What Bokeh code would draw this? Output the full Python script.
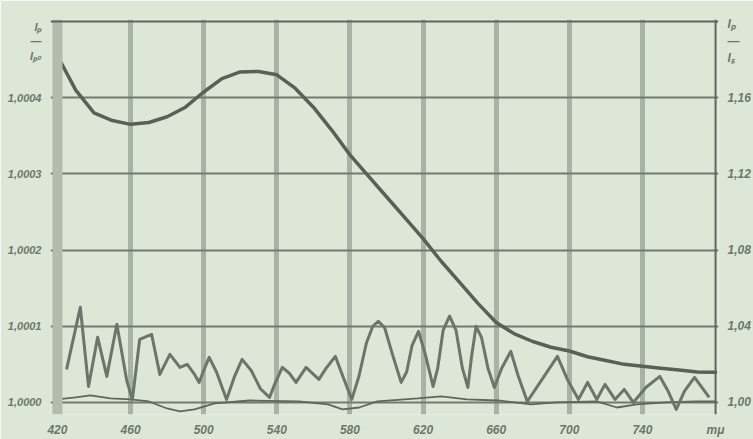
from bokeh.plotting import figure
from bokeh.models import (Range1d, LinearAxis, FixedTicker, CustomJSTickFormatter,
                          Span)
from bokeh.embed import file_html
from bokeh.resources import INLINE

# Wavelength (mμ) and intensity ratio I_p / I_s (right-hand scale)
wl_ratio = [420, 430, 440, 450, 460, 470, 480, 490, 500, 510, 520, 530, 540,
            550, 560, 570, 580, 590, 600, 610, 620, 630, 640, 650, 660, 670,
            680, 690, 700, 710, 720, 730, 740, 750, 760, 770, 780]
ratio = [1.182, 1.164, 1.152, 1.148, 1.146, 1.147, 1.150, 1.155, 1.163, 1.170,
         1.1735, 1.1738, 1.172, 1.165, 1.155, 1.143, 1.130, 1.119, 1.108,
         1.097, 1.086, 1.074, 1.063, 1.052, 1.042, 1.036, 1.032, 1.029,
         1.027, 1.024, 1.022, 1.020, 1.019, 1.018, 1.017, 1.016, 1.0158]

# Oscillating relative intensity (left-hand scale)
wl_osc = [425, 432.5, 437, 442, 447, 452.5, 458, 461, 465, 471.5, 476, 481.5,
          487, 491, 495, 497.5, 500, 503, 507, 512.5, 517, 521, 526, 531, 536,
          539, 543, 547, 550.5, 556, 563, 567, 572, 576, 581,
          585, 589, 592.5, 595.5, 599, 603, 608, 611, 614, 617.5, 621, 625.5,
          628, 631, 634.5, 638, 641.5, 644.5, 646.5, 649, 652, 655.5, 659,
          663, 668, 672, 677, 685, 693.5, 699, 705, 710, 715, 719.5, 725,
          730, 735, 742, 749.5, 754, 758.5, 763, 768.5, 776.5]
osc = [1.0000434, 1.0001250, 1.0000210, 1.0000855, 1.0000342, 1.0001026,
       1.0000276, 1.0000040, 1.0000829, 1.0000895, 1.0000368, 1.0000632,
       1.0000460, 1.0000500, 1.0000368, 1.0000263, 1.0000420, 1.0000592,
       1.0000400, 1.0000040, 1.0000350, 1.0000566, 1.0000420, 1.0000180,
       1.0000066, 1.0000250, 1.0000460, 1.0000380, 1.0000263, 1.0000460,
       1.0000303, 1.0000450, 1.0000605, 1.0000350, 1.0000040,
       1.0000350, 1.0000780, 1.0001000, 1.0001066, 1.0000980, 1.0000650,
       1.0000263, 1.0000400, 1.0000750, 1.0000934, 1.0000650, 1.0000210,
       1.0000450, 1.0000950, 1.0001132, 1.0000950, 1.0000450, 1.0000197,
       1.0000600, 1.0001000, 1.0000850, 1.0000450, 1.0000197, 1.0000450,
       1.0000671, 1.0000350, 1.0000013, 1.0000300, 1.0000605, 1.0000300,
       1.0000040, 1.0000263, 1.0000040, 1.0000237, 1.0000040, 1.0000171,
       1.0000000, 1.0000200, 1.0000342, 1.0000150, 0.9999908, 1.0000150,
       1.0000329, 1.0000066]

# Reference trace lying close to 1,0000 (left-hand scale)
wl_ref = [420, 430, 438, 449, 460, 470, 480, 487, 495, 506, 525, 552, 568,
          576, 585, 595, 617, 630, 644, 661, 679, 693, 715, 726, 737, 753,
          769, 780]
ref = [1.0000040, 1.0000066, 1.0000092, 1.0000053, 1.0000040, 1.0000013,
       0.9999921, 0.9999882, 0.9999908, 0.9999987, 1.0000026, 1.0000013,
       0.9999974, 0.9999908, 0.9999934, 1.0000013, 1.0000053, 1.0000079,
       1.0000040, 1.0000026, 0.9999974, 1.0000000, 1.0000013, 0.9999934,
       0.9999974, 1.0000000, 1.0000013, 1.0000013]

x_ticks = [420, 460, 500, 540, 580, 620, 660, 700, 740, 780]
right_ticks = [1.00, 1.04, 1.08, 1.12, 1.16]
left_ticks = [1.0000, 1.0001, 1.0002, 1.0003, 1.0004]
# axis titles, written as fractions at the top of each scale
left_title = "Iₚ\n―\nIₚ₀"
right_title = "Iₚ\n―\nIₛ"

BG = "#dce7d8"
INK = "#5c685c"
TXT = "#6d786c"

y0, y1 = 0.99368, 1.20105
left_lo, left_hi = 1 + (y0 - 1) / 400, 1 + (y1 - 1) / 400
title_pos = 0.945  # fraction of the frame height where the titles sit

p = figure(width=753, height=439, output_backend="svg", toolbar_location=None,
           x_range=Range1d(416.2, 781.6), y_range=Range1d(y0, y1),
           y_axis_location="right",
           min_border_left=50, min_border_right=31,
           min_border_top=19, min_border_bottom=24)
p.background_fill_color = BG
p.border_fill_color = BG
p.outline_line_color = None

p.extra_y_ranges = {"left": Range1d(left_lo, left_hi)}

# grid
p.xgrid.ticker = FixedTicker(ticks=[460, 500, 540, 580, 620, 660, 700, 740])
p.xgrid.grid_line_color = "#a7b4a5"
p.xgrid.grid_line_width = 5
p.ygrid.ticker = FixedTicker(ticks=right_ticks)
p.ygrid.grid_line_color = "#6f7c6f"
p.ygrid.grid_line_width = 2

p.add_layout(Span(location=420, dimension="height", line_color="#b0bdad",
                  line_width=10), "center")
p.add_layout(Span(location=780, dimension="height", line_color=INK,
                  line_width=2), "center")
p.add_layout(Span(location=1.20, dimension="width", line_color=INK,
                  line_width=2), "center")


def style_axis(ax, size):
    ax.axis_line_color = None
    ax.major_tick_line_color = None
    ax.minor_tick_line_color = None
    ax.major_label_text_color = TXT
    ax.major_label_text_font = "Liberation Sans"
    ax.major_label_text_font_style = "bold italic"
    ax.major_label_text_font_size = size
    ax.major_label_standoff = 3


# right axis: I_p / I_s
r_title_tick = y0 + title_pos * (y1 - y0)
ry = p.yaxis[0]
ry.ticker = FixedTicker(ticks=right_ticks + [r_title_tick])
ry.formatter = CustomJSTickFormatter(
    args=dict(t=r_title_tick, title=right_title),
    code="return tick > t - 1e-6 ? title : tick.toFixed(2).replace('.', ',');")
style_axis(ry, "12px")

# left axis: relative intensity
l_title_tick = left_lo + title_pos * (left_hi - left_lo)
ly = LinearAxis(y_range_name="left",
                ticker=FixedTicker(ticks=left_ticks + [l_title_tick]),
                formatter=CustomJSTickFormatter(
                    args=dict(t=l_title_tick, title=left_title),
                    code="return tick > t - 1e-9 ? title : tick.toFixed(4).replace('.', ',');"))
style_axis(ly, "11px")
p.add_layout(ly, "left")

# bottom axis: wavelength
bx = p.xaxis[0]
bx.ticker = FixedTicker(ticks=x_ticks)
bx.formatter = CustomJSTickFormatter(
    code="return tick >= 780 ? 'mμ' : tick.toFixed(0);")
style_axis(bx, "12px")
bx.major_label_standoff = 2

# curves
p.line(wl_ref, ref, y_range_name="left", line_color=INK, line_width=1.8)
p.line(wl_osc, osc, y_range_name="left", line_color="#6a766a", line_width=3,
       line_join="round")
p.line(wl_ratio, ratio, line_color="#566256", line_width=3.5,
       line_join="round", line_cap="round")

open("out.html", "w").write(file_html(p, INLINE))
